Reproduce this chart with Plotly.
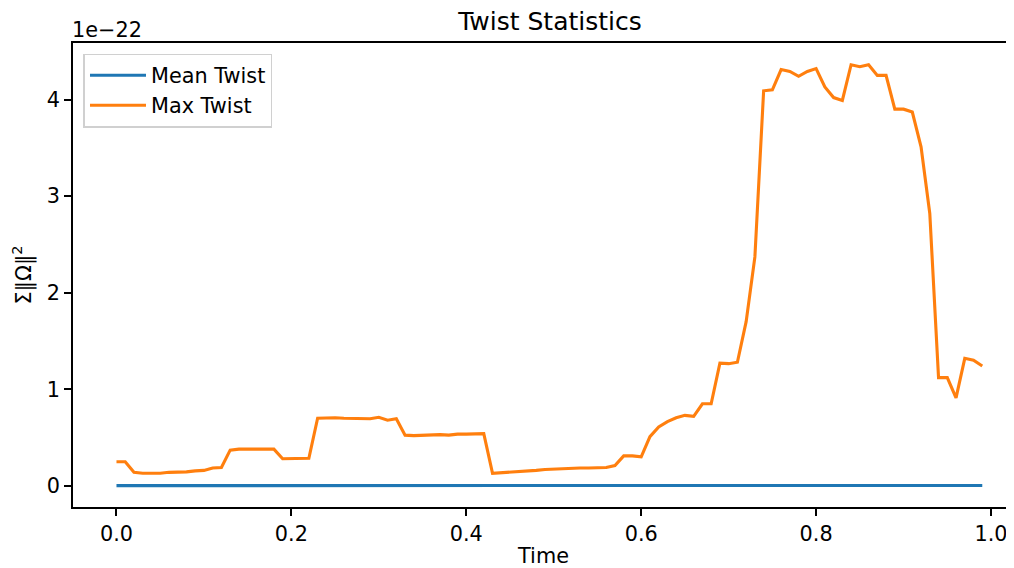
import plotly.graph_objects as go

# Time samples (0.00 .. 0.99)
time = [round(i * 0.01, 2) for i in range(100)]

# Values in units of 1e-22
max_twist = [
    0.25, 0.25, 0.14, 0.13, 0.13, 0.13, 0.14, 0.14, 0.145, 0.155,
    0.16, 0.185, 0.19, 0.37, 0.38, 0.38, 0.38, 0.385, 0.38, 0.28,
    0.28, 0.285, 0.285, 0.70, 0.705, 0.705, 0.70, 0.70, 0.70, 0.695,
    0.71, 0.68, 0.695, 0.525, 0.52, 0.525, 0.53, 0.53, 0.525, 0.535,
    0.535, 0.535, 0.54, 0.13, 0.135, 0.14, 0.15, 0.155, 0.16, 0.17,
    0.175, 0.175, 0.18, 0.185, 0.185, 0.19, 0.19, 0.21, 0.31, 0.31,
    0.30, 0.51, 0.61, 0.665, 0.705, 0.73, 0.72, 0.85, 0.85, 1.27,
    1.265, 1.28, 1.70, 2.37, 4.09, 4.10, 4.31, 4.29, 4.24, 4.29,
    4.32, 4.13, 4.02, 3.99, 4.36, 4.34, 4.36, 4.25, 4.25, 3.90,
    3.90, 3.87, 3.51, 2.82, 1.12, 1.12, 0.91, 1.32, 1.30, 1.24,
]

mean_twist = [
    0.002, 0.002, 0.001, 0.001, 0.001, 0.001, 0.001, 0.001, 0.001, 0.001,
    0.001, 0.001, 0.001, 0.002, 0.002, 0.002, 0.002, 0.002, 0.002, 0.002,
    0.002, 0.002, 0.002, 0.003, 0.003, 0.003, 0.003, 0.003, 0.003, 0.003,
    0.003, 0.003, 0.003, 0.002, 0.002, 0.002, 0.002, 0.002, 0.002, 0.002,
    0.002, 0.002, 0.002, 0.001, 0.001, 0.001, 0.001, 0.001, 0.001, 0.001,
    0.001, 0.001, 0.001, 0.001, 0.001, 0.001, 0.001, 0.001, 0.002, 0.002,
    0.002, 0.002, 0.003, 0.003, 0.003, 0.003, 0.003, 0.004, 0.004, 0.005,
    0.005, 0.005, 0.006, 0.007, 0.008, 0.008, 0.008, 0.008, 0.008, 0.008,
    0.008, 0.008, 0.008, 0.008, 0.008, 0.008, 0.008, 0.008, 0.008, 0.008,
    0.008, 0.008, 0.007, 0.006, 0.004, 0.004, 0.004, 0.004, 0.004, 0.004,
]

series_names = ["Mean Twist", "Max Twist"]
x_ticks = [0.0, 0.2, 0.4, 0.6, 0.8, 1.0]
x_tick_labels = ["0.0", "0.2", "0.4", "0.6", "0.8", "1.0"]
y_ticks = [0, 1, 2, 3, 4]
y_tick_labels = ["0", "1", "2", "3", "4"]

FONT = "DejaVu Sans"
FS = 20.8
TITLE_FS = 25

OFF = 8  # page body margin
W, H = 1014 - OFF, 568 - OFF
left, right, top, bottom = 72.5 - OFF, 1014 - OFF, 43.3 - OFF, 507.3 - OFF
x0_px, x1_px = 116.0 - OFF, 991.0 - OFF
ppu = x1_px - x0_px
xr = [(left - x0_px) / ppu, (right - x0_px) / ppu]

fig = go.Figure()
fig.add_trace(go.Scatter(x=time, y=mean_twist, mode="lines", name=series_names[0],
                         line=dict(color="#1f77b4", width=3.1)))
fig.add_trace(go.Scatter(x=time, y=max_twist, mode="lines", name=series_names[1],
                         line=dict(color="#ff7f0e", width=3.1)))

fig.update_layout(
    width=W, height=H,
    margin=dict(l=left, r=W - right, t=top, b=H - bottom, pad=0, autoexpand=False),
    paper_bgcolor="white", plot_bgcolor="white",
    font=dict(family=FONT, size=FS, color="black"),
    title=dict(text="Twist Statistics", x=(550 - OFF) / W, xanchor="center",
               y=1 - (21 - OFF) / H, yanchor="middle",
               font=dict(family=FONT, size=TITLE_FS, color="black")),
    showlegend=True,
    legend=dict(x=(83 - OFF - left) / (right - left),
                y=1 - (54 - OFF - top) / (bottom - top),
                xanchor="left", yanchor="top",
                bgcolor="rgba(255,255,255,0.8)", bordercolor="#d0d0d0", borderwidth=1.5,
                font=dict(family=FONT, size=FS, color="black"),
                itemwidth=56, tracegroupgap=0),
)

fig.update_xaxes(
    range=xr, tickmode="array", tickvals=x_ticks, ticktext=x_tick_labels,
    showgrid=False, zeroline=False, showline=True, linecolor="black", linewidth=1.7,
    mirror=True, ticks="outside", ticklen=7, tickwidth=1.7, tickcolor="black",
    tickfont=dict(family=FONT, size=FS, color="black"),
    title=dict(text="Time", font=dict(family=FONT, size=FS, color="black"), standoff=9),
)
fig.update_yaxes(
    range=[-0.219, 4.585], tickmode="array", tickvals=y_ticks, ticktext=y_tick_labels,
    showgrid=False, zeroline=False, showline=True, linecolor="black", linewidth=1.7,
    mirror=False, ticks="outside", ticklen=7, tickwidth=1.7, tickcolor="black",
    tickfont=dict(family=FONT, size=FS, color="black"),
    title=dict(text="Σ‖Ω‖<sup>2</sup>", font=dict(family=FONT, size=FS, color="black"),
               standoff=10),
)

fig.add_annotation(text="1e−22", xref="paper", yref="paper", x=0, y=1,
                   xanchor="left", yanchor="bottom", xshift=-3, yshift=-1, showarrow=False,
                   font=dict(family=FONT, size=FS, color="black"))

fig.write_html("out.html")
